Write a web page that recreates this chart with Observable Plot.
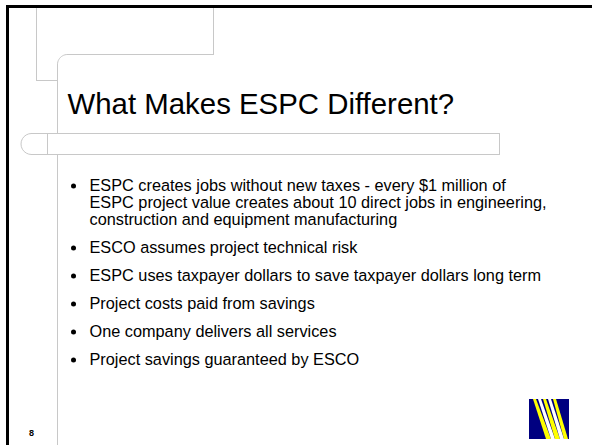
<!DOCTYPE html>
<html>
<head>
<meta charset="utf-8">
<script src="https://cdn.jsdelivr.net/npm/d3@7"></script>
<script src="https://cdn.jsdelivr.net/npm/@observablehq/plot@0.6"></script>
<style>
  html, body { margin: 0; padding: 0; background: #fff; }
  #chart svg { display: block; }
</style>
</head>
<body>
<div id="chart"></div>
<script>
// ---- content ----
const slideTitle = "What Makes ESPC Different?";
const pageNumber = "8";
const bulletTexts = [
  ["ESPC creates jobs without new taxes - every $1 million of",
   "ESPC project value creates about 10 direct jobs in engineering,",
   "construction and equipment manufacturing"],
  ["ESCO assumes project technical risk"],
  ["ESPC uses taxpayer dollars to save taxpayer dollars long term"],
  ["Project costs paid from savings"],
  ["One company delivers all services"],
  ["Project savings guaranteed by ESCO"]
];
// logo stripes: [top-left x, top-right x, bottom-left x, bottom-right x]
const logoStripeX = [
  [533, 536, 546, 551],
  [538, 541, 551, 555],
  [543, 546, 555, 560],
  [548, 551, 560, 564],
  [553, 556, 564, 568]
];
const logoStripeColors = ["#ffff00", "#ffffff", "#ffff00", "#ffffff", "#ffff00"];

// ---- layout ----
const W = 592, H = 445;
const gray = "#c8c8c8";
const textX = 89, dotX = 73;
const firstBaseline = 190, lineStep = 17, paraGap = 11;

const lines = [];
const dots = [];
let yb = firstBaseline;
bulletTexts.forEach((para, i) => {
  dots.push({x: dotX, y: yb - 4.5});
  para.forEach((t, j) => {
    lines.push({x: textX, y: yb, text: t});
    yb += lineStep;
  });
  yb += paraGap;
});

function arc(id, cx, cy, r, a0, a1) {
  return d3.range(0, 13).map(k => {
    const a = (a0 + (a1 - a0) * k / 12) * Math.PI / 180;
    return {id, x: cx + r * Math.cos(a), y: cy + r * Math.sin(a)};
  });
}
function seg(id, x1, y1, x2, y2) { return [{id, x: x1, y: y1}, {id, x: x2, y: y2}]; }

const frame = [
  ...seg("a", 36, 6, 36, 80), ...seg("b", 36, 80, 57, 80),
  ...seg("c", 213, 6, 213, 54), ...seg("d", 67, 54, 213, 54),
  ...arc("e", 67, 64, 10, 180, 270),
  ...seg("f", 57, 64, 57, 133),
  ...seg("g", 31, 133, 499, 133), ...seg("h", 31, 154, 499, 154),
  ...seg("i", 499, 133, 499, 154), ...seg("j", 47, 133, 47, 154),
  ...arc("k", 31, 143.5, 10.5, 90, 270),
  ...seg("l", 57, 154, 57, H)
];

const stripes = [];
logoStripeX.forEach((s, i) => {
  stripes.push({id: i, y: 399, x1: s[0], x2: s[1], c: logoStripeColors[i]});
  stripes.push({id: i, y: 439, x1: s[2], x2: s[3], c: logoStripeColors[i]});
});

const chart = Plot.plot({
  width: W, height: H, margin: 0,
  x: {domain: [0, W], range: [0, W], axis: null},
  y: {domain: [0, H], range: [0, H], axis: null},
  color: {type: "identity"},
  style: {fontFamily: "'Liberation Sans', Arial, sans-serif", background: "#fff"},
  marks: [
    Plot.line(frame, {x: "x", y: "y", z: "id", stroke: gray, strokeWidth: 1}),
    Plot.ruleY([6], {x1: 6, x2: W, stroke: "#000", strokeWidth: 3}),
    Plot.ruleX([7], {y1: 5, y2: H, stroke: "#000", strokeWidth: 3}),
    Plot.text([slideTitle], {x: 67, y: 113, text: d => d, fontSize: 29.4, textAnchor: "start", lineAnchor: "bottom", fill: "#000"}),
    Plot.dot(dots, {x: "x", y: "y", r: 2.5, fill: "#000", stroke: null}),
    Plot.text(lines, {x: "x", y: "y", text: "text", fontSize: 16.3, textAnchor: "start", lineAnchor: "bottom", fill: "#000"}),
    Plot.text([pageNumber], {x: 31, y: 435, text: d => d, fontSize: 9, fontWeight: "bold", textAnchor: "middle", lineAnchor: "bottom", fill: "#000"}),
    Plot.rect([0], {x1: 529, x2: 569, y1: 399, y2: 439, fill: "#000080", inset: 0}),
    Plot.areaX(stripes, {y: "y", x1: "x1", x2: "x2", z: "id", fill: "c"})
  ]
});
document.getElementById("chart").appendChild(chart);
</script>
</body>
</html>
